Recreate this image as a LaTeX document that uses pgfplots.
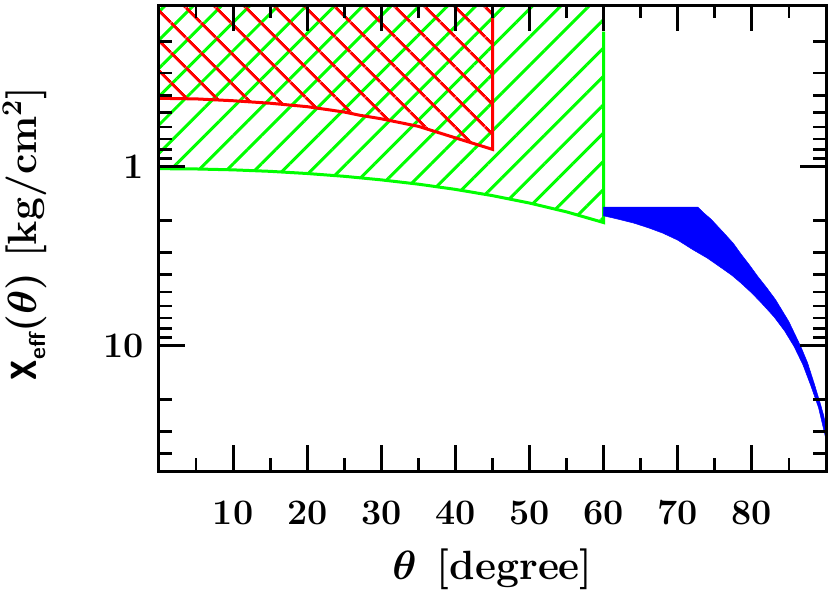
\RequirePackage{fix-cm}
\documentclass[border=0pt]{standalone}
\usepackage{graphicx}
\usepackage{pgfplots}
\pgfplotsset{compat=1.18}
\usetikzlibrary{patterns.meta}
\definecolor{hgreen}{RGB}{0,255,0}
\definecolor{hred}{RGB}{255,0,0}
\definecolor{hblue}{RGB}{0,0,255}

\begin{document}
\begin{tikzpicture}
\begin{axis}[
    name=ax,
    width=667bp, height=466bp, scale only axis,
    xmin=0, xmax=90,
    ymode=log, ymin=0.125, ymax=50, y dir=reverse,
    xtick={0,10,20,30,40,50,60,70,80,90},
    xticklabels={,10,20,30,40,50,60,70,80,},
    minor xtick={5,15,25,35,45,55,65,75,85},
    ytick={1,10}, yticklabels={1,10},
    minor ytick={0.2,0.3,0.4,0.5,0.6,0.7,0.8,0.9,2,3,4,5,6,7,8,9,20,30,40},
    axis on top,
    axis line style={line width=3bp},
    every tick/.style={black, line width=2.8bp},
    major tick length=26bp, minor tick length=13bp,
    tick label style={font=\fontsize{36}{36}\selectfont\bfseries},
    yticklabel style={xshift=-12bp},
    xticklabel style={yshift=-26bp},
    every axis x label/.style={at={(axis description cs:0.5,-0.2318)}, anchor=base,
        font=\fontsize{41}{41}\selectfont\bfseries\boldmath},
    every axis y label/.style={at={(axis description cs:-0.1844,0.51)}, anchor=base, rotate=90,
        font=\fontsize{41}{41}\selectfont\bfseries\boldmath},
    xlabel={$\theta$\hspace{0.5em}[degree]},
    ylabel={\scalebox{1}[1.35]{\textsf{x}}\raisebox{-9bp}{\fontsize{23}{23}\selectfont\textsf{eff}}$(\theta)$\hspace{0.35em}[kg/cm$^2$]},
]

% green hatched region
\addplot[draw=none, pattern={Lines[angle=45,distance=20bp,line width=3bp]}, pattern color=hgreen]
coordinates {
    (0,0.125) (0,1.025) (5,1.029) (10,1.041) (15,1.061) (20,1.091) (25,1.131)
    (30,1.184) (35,1.251) (40,1.338) (45,1.450) (50,1.595) (55,1.787) (60,2.05) (60,0.125)
} -- cycle;

% red hatched region
\addplot[draw=none, pattern={Lines[angle=-45,distance=21bp,line width=3bp]}, pattern color=hred]
coordinates {
    (0,0.125) (0,0.415) (5,0.418) (10,0.428) (15,0.442) (20,0.462) (25,0.495)
    (27,0.515) (30,0.54) (35,0.595) (40,0.69) (45,0.80) (45,0.125)
} -- cycle;

% green outline
\addplot[hgreen, line width=3bp] coordinates {
    (0,1.025) (5,1.029) (10,1.041) (15,1.061) (20,1.091) (25,1.131)
    (30,1.184) (35,1.251) (40,1.338) (45,1.450) (50,1.595) (55,1.787) (60,2.05) (60,0.176)
};

% red outline
\addplot[hred, line width=3bp] coordinates {
    (0,0.415) (5,0.418) (10,0.428) (15,0.442) (20,0.462) (25,0.495)
    (27,0.515) (30,0.54) (35,0.595) (40,0.69) (45,0.80) (45,0.147)
};

% blue band: outer edge then inner edge back
\addplot[fill=hblue, draw=hblue, line width=0.5bp] coordinates {
    (60,1.68) (72.7,1.68) (73.5,1.81) (74.5,1.965) (76.25,2.35) (77.5,2.68)
    (78.5,3.06) (79.7,3.55) (80.8,4.10) (82,4.74) (83.2,5.53) (84.1,6.37)
    (85,7.34) (86.6,10.1) (87.5,12.4) (88.4,16.2) (89.2,20.8) (89.7,24.6) (90,28.2)
    (90,33.5) (89.8,30.7) (89,22.2) (88,16.9) (86.9,12.8) (85.7,10.1) (84.4,8.24)
    (83,6.9) (82,6.21) (81,5.6) (79.8,4.99) (78.5,4.45) (77.3,4.04) (76,3.70)
    (74,3.24) (72,2.90) (70,2.57) (68,2.35) (66,2.19) (64,2.06) (62,1.965) (60,1.88)
} -- cycle;

\end{axis}
\pgfresetboundingbox
\path ([xshift=-159bp,yshift=-124bp]ax.south west) rectangle ([xshift=4bp,yshift=5bp]ax.north east);
\end{tikzpicture}
\end{document}
